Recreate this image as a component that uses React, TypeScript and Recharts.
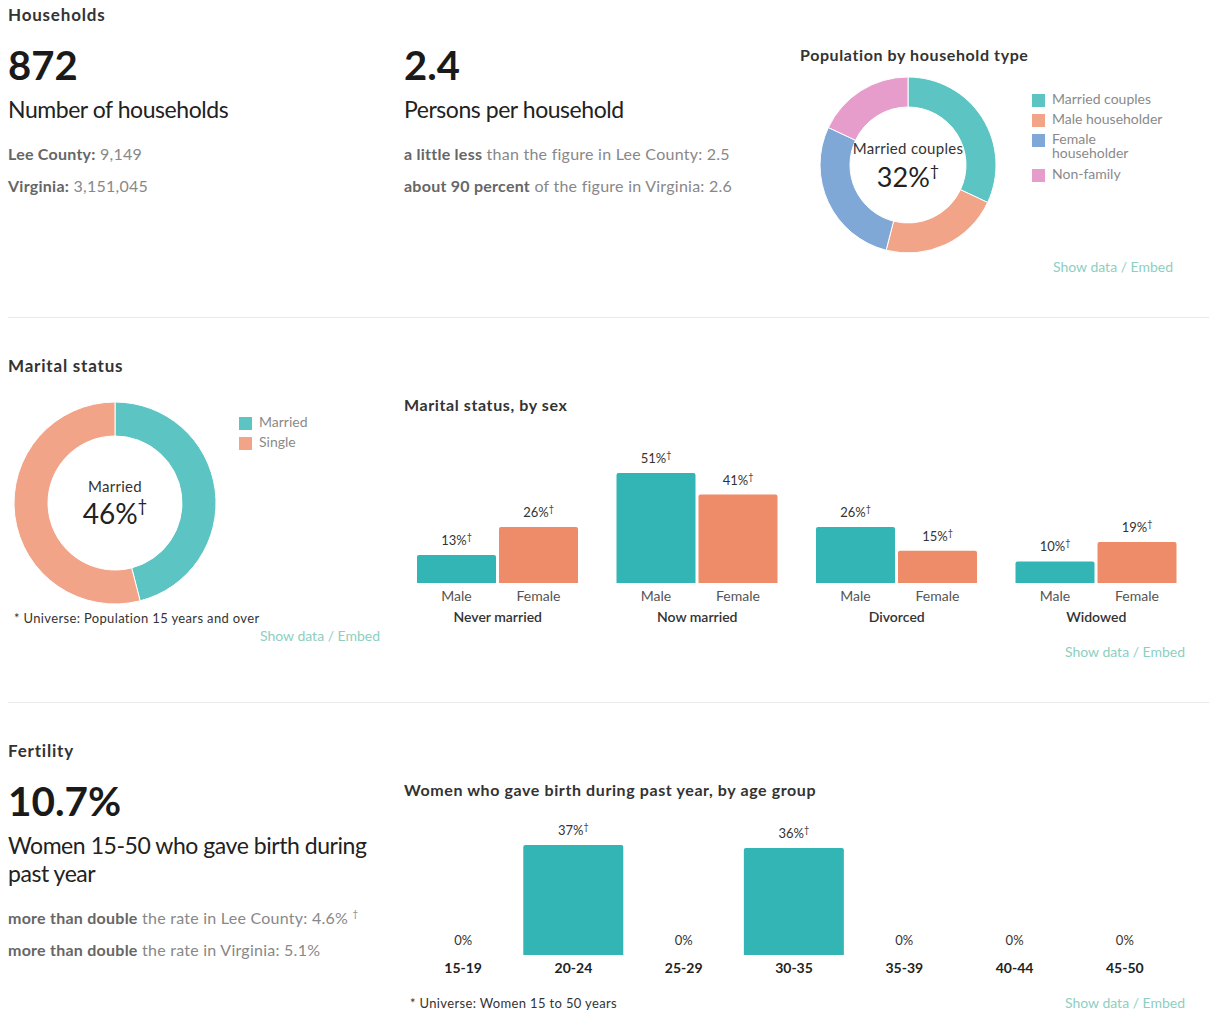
import React from "react";
import { PieChart, Pie, Cell, BarChart, Bar, XAxis, YAxis, LabelList } from "recharts";

// household type donut
const householdTypes = ["Married couples", "Male householder", "Female householder", "Non-family"];
const householdShares = [32, 22, 28, 18];

// marital status donut
const maritalLabels = ["Married", "Single"];
const maritalShares = [46, 54];

// marital status by sex
const maritalCategories = ["Never married", "Now married", "Divorced", "Widowed"];
const maleShares = [13, 51, 26, 10];
const femaleShares = [26, 41, 15, 19];

// fertility by age group
const ageGroups = ["15-19", "20-24", "25-29", "30-35", "35-39", "40-44", "45-50"];
const birthShares = [0, 37, 0, 36, 0, 0, 0];

const FONT = "Lato, 'Open Sans', sans-serif";
const TEAL = "#5cc4c2";
const SALMON = "#f2a488";
const BLUE = "#80a8d6";
const PINK = "#e69dcb";
const BAR_TEAL = "#33b4b5";
const BAR_SALMON = "#ee8b69";
const LINK = "#8ccfbf";

const householdData = householdTypes.map((name, i) => ({ name, value: householdShares[i] }));
const maritalData = maritalLabels.map((name, i) => ({ name, value: maritalShares[i] }));
const bySexData = maritalCategories.map((name, i) => ({ name, male: maleShares[i], female: femaleShares[i] }));
const birthData = ageGroups.map((name, i) => ({ name, value: birthShares[i] }));

function Txt({ x, y, size, weight = 400, color = "#333", align = "left", ls = 0, children }: any) {
  const transform = align === "center" ? "translateX(-50%)" : align === "right" ? "translateX(-100%)" : undefined;
  return (
    <div
      style={{
        position: "absolute",
        left: x,
        top: y - size * 0.627,
        fontSize: size,
        lineHeight: 1.2,
        fontWeight: weight,
        color,
        letterSpacing: ls,
        whiteSpace: "nowrap",
        transform,
      }}
    >
      {children}
    </div>
  );
}

const Dagger = ({ size = "0.6em" }: { size?: string }) => (
  <sup style={{ fontSize: size, lineHeight: 0, verticalAlign: "0.7em" }}>†</sup>
);

function Legend({ x, y, items }: { x: number; y: number; items: { label: string; color: string; top: number }[] }) {
  return (
    <>
      {items.map((it) => (
        <div key={it.label} style={{ position: "absolute", left: x, top: y + it.top }}>
          <div style={{ position: "absolute", left: 0, top: 1, width: 13, height: 13, background: it.color }} />
          <div style={{ position: "absolute", left: 20, top: -1, width: 116, fontSize: 14, lineHeight: "14px", color: "#8a8a8a" }}>
            {it.label}
          </div>
        </div>
      ))}
    </>
  );
}

const Divider = ({ y }: { y: number }) => (
  <div style={{ position: "absolute", left: 8, top: y, width: 1201, height: 1, background: "#e9e9e9" }} />
);

const ShowData = ({ x, y }: { x: number; y: number }) => (
  <Txt x={x} y={y} size={14} color={LINK}>
    Show data / Embed
  </Txt>
);

const Title = ({ x, y, children }: any) => (
  <Txt x={x} y={y} size={17} weight={700} ls={0.8}>
    {children}
  </Txt>
);

const Sub = ({ x, y, children }: any) => (
  <Txt x={x} y={y} size={16} weight={700} ls={0.6}>
    {children}
  </Txt>
);

const Stat = ({ x, y, children }: any) => (
  <Txt x={x} y={y} size={16} color="#888" ls={0.25}>
    {children}
  </Txt>
);

function pctText(x: number, y: number, v: number) {
  return (
    <text x={x} y={y} textAnchor="middle" fontSize={13} fill="#333" fontFamily={FONT}>
      {v}%
      {v > 0 && (
        <tspan fontSize={9} dy={-5}>
          †
        </tspan>
      )}
    </text>
  );
}

function valueLabel(props: any) {
  const vb = props.viewBox ?? props;
  const { x, y, width } = vb;
  const v = Number(props.value);
  if (!(v > 0)) return null;
  return pctText(x + width / 2, y - 10, v);
}

const sexLabel = (name: string) => (props: any) => {
  const vb = props.viewBox ?? props;
  const { x, y, width, height } = vb;
  return (
    <text x={x + width / 2} y={y + height + 18} textAnchor="middle" fontSize={14} fill="#555" fontFamily={FONT}>
      {name}
    </text>
  );
};

const GroupTick = ({ x, y, payload }: any) => (
  <text x={x} y={y + 39} textAnchor="middle" fontSize={14} fontWeight={600} fill="#333" fontFamily={FONT}>
    {payload.value}
  </text>
);

// zero-height bars get no bar label, so their "0%" sits on the axis tick
const AgeTick = ({ x, y, payload, index }: any) => {
  const v = birthShares[index];
  return (
    <g>
      {v === 0 && pctText(x, y - 10, v)}
      <text x={x} y={y + 18} textAnchor="middle" fontSize={14} fontWeight={700} fill="#222" fontFamily={FONT}>
        {payload.value}
      </text>
    </g>
  );
};

export default function App() {
  const hhColors = [TEAL, SALMON, BLUE, PINK];
  const msColors = [TEAL, SALMON];
  return (
    <div style={{ position: "relative", width: 1209, height: 1015, fontFamily: FONT, background: "#fff", overflow: "hidden" }}>
      <style>{"body{margin:0}"}</style>

      {/* Households */}
      <Title x={8} y={16}>Households</Title>
      <Txt x={8} y={66} size={40} weight={700} color="#1a1a1a">872</Txt>
      <Txt x={8} y={110} size={23} color="#222" ls={-0.45}>Number of households</Txt>
      <Stat x={8} y={154}>
        <b style={{ color: "#666" }}>Lee County:</b> 9,149
      </Stat>
      <Stat x={8} y={186}>
        <b style={{ color: "#666" }}>Virginia:</b> 3,151,045
      </Stat>

      <Txt x={404} y={66} size={40} weight={700} color="#1a1a1a">2.4</Txt>
      <Txt x={404} y={110} size={23} color="#222" ls={-0.45}>Persons per household</Txt>
      <Stat x={404} y={154}>
        <b style={{ color: "#666" }}>a little less</b> than the figure in Lee County: 2.5
      </Stat>
      <Stat x={404} y={186}>
        <b style={{ color: "#666" }}>about 90 percent</b> of the figure in Virginia: 2.6
      </Stat>

      <Sub x={800} y={55}>Population by household type</Sub>
      <div style={{ position: "absolute", left: 818, top: 75 }}>
        <PieChart width={180} height={180} margin={{ top: 0, right: 0, bottom: 0, left: 0 }}>
          <Pie
            data={householdData}
            dataKey="value"
            nameKey="name"
            cx={90}
            cy={90}
            innerRadius={58}
            outerRadius={88}
            startAngle={90}
            endAngle={-270}
            stroke="#fff"
            strokeWidth={1}
            isAnimationActive={false}
          >
            {householdData.map((d, i) => (
              <Cell key={d.name} fill={hhColors[i]} />
            ))}
          </Pie>
        </PieChart>
      </div>
      <Txt x={908} y={148} size={15} align="center" ls={0.3}>Married couples</Txt>
      <Txt x={908} y={178} size={27} align="center" color="#222">
        {householdShares[0]}%<Dagger />
      </Txt>
      <Legend
        x={1032}
        y={93}
        items={[
          { label: householdTypes[0], color: TEAL, top: 0 },
          { label: householdTypes[1], color: SALMON, top: 20 },
          { label: householdTypes[2], color: BLUE, top: 40 },
          { label: householdTypes[3], color: PINK, top: 75 },
        ]}
      />
      <ShowData x={1053} y={268} />

      <Divider y={317} />

      {/* Marital status */}
      <Title x={8} y={367}>Marital status</Title>
      <div style={{ position: "absolute", left: 13, top: 401 }}>
        <PieChart width={204} height={204} margin={{ top: 0, right: 0, bottom: 0, left: 0 }}>
          <Pie
            data={maritalData}
            dataKey="value"
            nameKey="name"
            cx={102}
            cy={102}
            innerRadius={67}
            outerRadius={101}
            startAngle={90}
            endAngle={-270}
            stroke="#fff"
            strokeWidth={1}
            isAnimationActive={false}
          >
            {maritalData.map((d, i) => (
              <Cell key={d.name} fill={msColors[i]} />
            ))}
          </Pie>
        </PieChart>
      </div>
      <Txt x={115} y={486} size={15} align="center" ls={0.3}>Married</Txt>
      <Txt x={115} y={515} size={28} align="center" color="#222">
        {maritalShares[0]}%<Dagger />
      </Txt>
      <Legend
        x={239}
        y={416}
        items={[
          { label: maritalLabels[0], color: TEAL, top: 0 },
          { label: maritalLabels[1], color: SALMON, top: 20 },
        ]}
      />
      <Txt x={14} y={619} size={13} ls={0.35}>* Universe: Population 15 years and over</Txt>
      <ShowData x={260} y={637} />

      <Sub x={404} y={405}>Marital status, by sex</Sub>
      <div style={{ position: "absolute", left: 397.5, top: 443 }}>
        <BarChart
          width={798}
          height={190}
          data={bySexData}
          margin={{ top: 30, right: 0, bottom: 0, left: 0 }}
          barGap={3}
          barCategoryGap={19}
        >
          <XAxis dataKey="name" axisLine={false} tickLine={false} tickSize={0} tickMargin={0} height={50} interval={0} tick={<GroupTick />} />
          <YAxis hide domain={[0, "dataMax"]} />
          <Bar dataKey="male" name="Male" fill={BAR_TEAL} radius={[2, 2, 0, 0]} isAnimationActive={false}>
            <LabelList dataKey="male" content={valueLabel} />
            <LabelList dataKey="male" content={sexLabel("Male")} />
          </Bar>
          <Bar dataKey="female" name="Female" fill={BAR_SALMON} radius={[2, 2, 0, 0]} isAnimationActive={false}>
            <LabelList dataKey="female" content={valueLabel} />
            <LabelList dataKey="female" content={sexLabel("Female")} />
          </Bar>
        </BarChart>
      </div>
      <ShowData x={1065} y={653} />

      <Divider y={702} />

      {/* Fertility */}
      <Title x={8} y={752}>Fertility</Title>
      <Txt x={8} y={802} size={40.5} weight={700} color="#1a1a1a">10.7%</Txt>
      <Txt x={8} y={846} size={23} color="#222" ls={-0.45}>Women 15-50 who gave birth during</Txt>
      <Txt x={8} y={874} size={23} color="#222" ls={-0.45}>past year</Txt>
      <Stat x={8} y={918}>
        <b style={{ color: "#666" }}>more than double</b> the rate in Lee County: 4.6% <Dagger />
      </Stat>
      <Stat x={8} y={950}>
        <b style={{ color: "#666" }}>more than double</b> the rate in Virginia: 5.1%
      </Stat>

      <Sub x={404} y={790}>Women who gave birth during past year, by age group</Sub>
      <div style={{ position: "absolute", left: 408, top: 820 }}>
        <BarChart
          width={772}
          height={165}
          data={birthData}
          margin={{ top: 25, right: 0, bottom: 0, left: 0 }}
          barCategoryGap={5}
        >
          <XAxis dataKey="name" axisLine={false} tickLine={false} tickSize={0} tickMargin={0} height={30} interval={0} tick={<AgeTick />} />
          <YAxis hide domain={[0, "dataMax"]} />
          <Bar dataKey="value" fill={BAR_TEAL} radius={[2, 2, 0, 0]} isAnimationActive={false}>
            <LabelList dataKey="value" content={valueLabel} />
          </Bar>
        </BarChart>
      </div>
      <Txt x={410} y={1004} size={13} ls={0.35}>* Universe: Women 15 to 50 years</Txt>
      <ShowData x={1065} y={1004} />
    </div>
  );
}
